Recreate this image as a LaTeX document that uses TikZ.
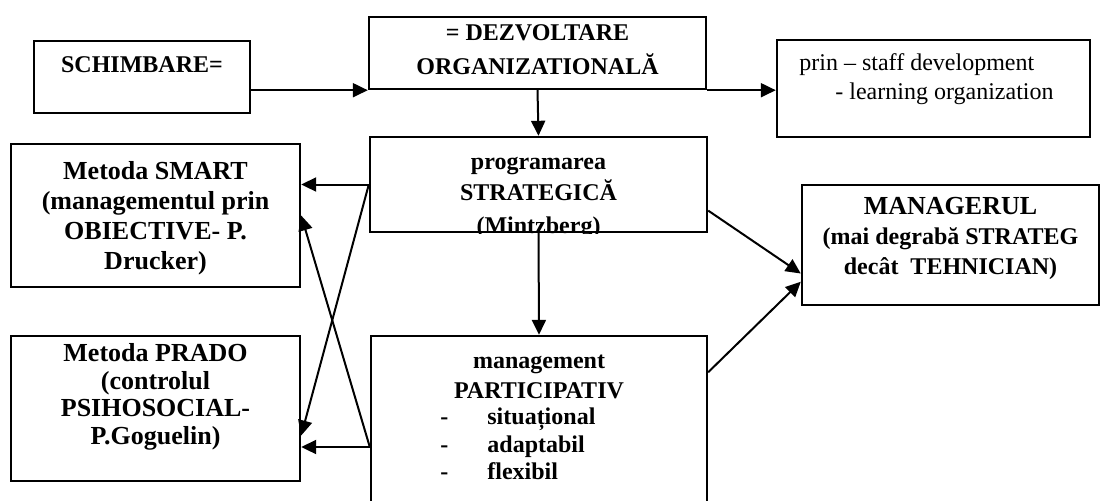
\documentclass[tikz,border=0pt]{standalone}
\usepackage{fontspec}
\setmainfont{Liberation Serif}
\usetikzlibrary{arrows.meta,calc,fit}
\begin{document}
\begin{tikzpicture}[x=0.5pt,y=-0.5pt,
 box/.style={draw, line width=1.2pt, inner sep=0pt},
 bt/.style={font=\bfseries\fontsize{12}{14}\selectfont, inner sep=0pt, anchor=base},
 bl/.style={font=\bfseries\fontsize{13}{15}\selectfont, inner sep=0pt, anchor=base},
 bw/.style={font=\bfseries\fontsize{12}{14}\selectfont, inner sep=0pt, anchor=base west},
 rt/.style={font=\fontsize{12}{14}\selectfont, inner sep=0pt, anchor=base west},
 arr/.style={line width=1pt, -{Triangle[length=7.5pt,width=7pt]}}]
\clip (0,0) rectangle (1102,500);
% boxes
\node[box, fit={(34,41) (250,113)}] (sch) {};
\node[box, fit={(369,17) (706,89)}] (dezv) {};
\node[box, fit={(777,40) (1090,137)}] (prin) {};
\node[box, fit={(370,137) (707,232)}] (prog) {};
\node[box, fit={(11,144) (300,287)}] (smart) {};
\node[box, fit={(802,185) (1099,305)}] (mgr) {};
\node[box, fit={(11,336) (300,481)}] (prado) {};
\node[box, fit={(371,336) (707,558)}] (mgmt) {};
% texts
\node[bt] (tsch) at (142,72) {SCHIMBARE=};
\node[bt] (tdz1) at (537.5,40) {= DEZVOLTARE};
\node[bt] (tdz2) at (537.5,74) {ORGANIZATIONALĂ};
\node[rt] (tpr1) at (799,70) {prin – staff development};
\node[rt] (tpr2) at (835,99) {- learning organization};
\begin{scope}
\clip (prog.north west) rectangle (prog.south east);
\node[bt] (tpg1) at (538.5,169) {programarea};
\node[bt] (tpg2) at (538.5,200) {STRATEGICĂ};
\node[bt] (tpg3) at (538.5,233) {(Mintzberg)};
\end{scope}
\node[bl] (tsm1) at (155.5,179) {Metoda SMART};
\node[bl] (tsm2) at (155.5,209) {(managementul prin};
\node[bl] (tsm3) at (155.5,239) {OBIECTIVE- P.};
\node[bl] (tsm4) at (155.5,269) {Drucker)};
\node[bl] (tmg1) at (950.5,214) {MANAGERUL};
\node[bt] (tmg2) at (950.5,244) {(mai degrabă STRATEG};
\node[bt] (tmg3) at (950.5,274) {decât\ \ TEHNICIAN)};
\node[bl] (tpd1) at (155.5,361) {Metoda PRADO};
\node[bl] (tpd2) at (155.5,389) {(controlul};
\node[bl] (tpd3) at (155.5,416) {PSIHOSOCIAL-};
\node[bl] (tpd4) at (155.5,444) {P.Goguelin)};
\node[bt] (tmm1) at (539,368) {management};
\node[bt] (tmm2) at (539,398) {PARTICIPATIV};
\node[bw] (td1) at (440,424) {-};
\node[bw] (td2) at (440,452) {-};
\node[bw] (td3) at (440,479) {-};
\node[bw] (ti1) at (487,424) {situațional};
\node[bw] (ti2) at (487,452) {adaptabil};
\node[bw] (ti3) at (487,479) {flexibil};
% connectors
\draw[arr] (sch.east |- dezv.south west) -- (dezv.south west);
\draw[arr] (dezv.south east) -- (prin.west |- dezv.south east);
\draw[arr] (dezv.south) -- (prog.north);
\draw[arr] (prog.south) -- (mgmt.north);
\draw[arr] (prog.west) -- (smart.east |- prog.west);
\coordinate (pradoIn) at ($(prado.north east)!0.683!(prado.south east)$);
\draw[arr] (prog.west) -- (pradoIn);
\draw[arr] (mgmt.west) -- (mgmt.west -| prado.east);
\draw[arr] (mgmt.west) -- (smart.east);
\coordinate (progOut) at ($(prog.north east)!0.768!(prog.south east)$);
\coordinate (mgrInA) at ($(mgr.north west)!0.733!(mgr.south west)$);
\draw[arr] (progOut) -- (mgrInA);
\coordinate (mgmtOut) at ($(mgmt.north east)!0.1667!(mgmt.south east)$);
\coordinate (mgrInB) at ($(mgr.north west)!0.8!(mgr.south west)$);
\draw[arr] (mgmtOut) -- (mgrInB);
\end{tikzpicture}
\end{document}
